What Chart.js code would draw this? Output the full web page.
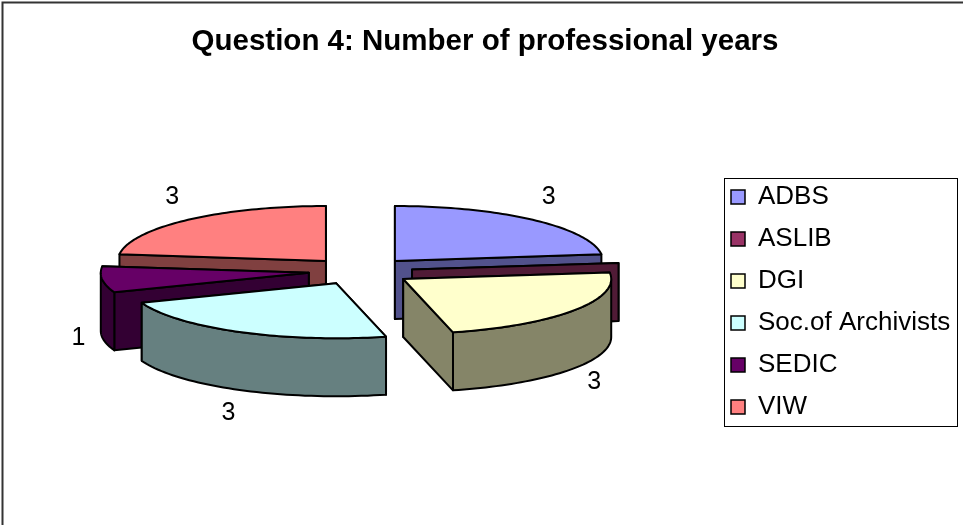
<!DOCTYPE html>
<html><head><meta charset="utf-8">
<style>html,body{margin:0;padding:0;background:#fff}#w{position:relative;width:963px;height:525px}</style>
<script src="https://cdn.jsdelivr.net/npm/chart.js@4"></script>
</head><body><div id="w"><canvas id="c" width="963" height="525"></canvas></div>
<script>
const categories = ['ADBS','ASLIB','DGI','Soc.of Archivists','SEDIC','VIW'];
const values = [3,0,3,3,1,3];
const topColors = ['#9999FF','#993366','#FFFFCC','#CCFFFF','#660066','#FF8080'];
const wallColors = ['#52528C','#501B36','#858568','#668080','#330033','#804040'];
const paintOrder = [0,5,1,4,2,3];
const tiltY = 0.264, depth = 58, shiftX = -2, labelDX = 24, labelDY = 30, labelFrontLift = 3;
const legendFrame = {left:724, top:178, right:957, bottom:426};
const legendInset = 9, legendOverscan = 30;

function pt(g,a,r){ return [g.x+Math.cos(a)*r, g.y+Math.sin(a)*r*tiltY]; }
const pie3d = {
  id:'pie3d',
  afterLayout(chart){
    const l=chart.legend;
    l.left=legendFrame.left-legendInset; l.right=legendFrame.right;
    l.top=legendFrame.top-legendOverscan; l.bottom=legendFrame.bottom+legendOverscan;
    l.height=l.bottom-l.top;
  },
  beforeDraw(chart){
    const c=chart.ctx; c.save(); c.strokeStyle='#333'; c.lineWidth=2;
    c.beginPath(); c.moveTo(2.5,chart.height); c.lineTo(2.5,2.5); c.lineTo(chart.width,2.5); c.stroke();
    c.strokeStyle='#000'; c.lineWidth=1;
    c.strokeRect(legendFrame.left+.5,legendFrame.top+.5,legendFrame.right-legendFrame.left,legendFrame.bottom-legendFrame.top);
    c.restore();
  },
  beforeDatasetsDraw(chart){
    const c=chart.ctx, meta=chart.getDatasetMeta(0);
    const geo=meta.data.map((el,i)=>{
      const mid=(el.startAngle+el.endAngle)/2, off=el.options.offset/4;
      return {i,s:el.startAngle,e:el.endAngle,mid,r:el.outerRadius,
        x:el.x+shiftX+Math.cos(mid)*off,
        y:el.y-depth/2+Math.sin(mid)*off*tiltY};
    });
    const poly=(pts,fill)=>{c.beginPath();pts.forEach((p,k)=>k?c.lineTo(p[0],p[1]):c.moveTo(p[0],p[1]));c.closePath();c.fillStyle=fill;c.fill();c.stroke();};
    c.save(); c.strokeStyle='#000'; c.lineWidth=2; c.lineJoin='round';
    paintOrder.forEach(i=>{
      const g=geo[i], wall=wallColors[i];
      // radial faces, the one nearer the viewer last
      [g.s,g.e].sort((a,b)=>Math.sin(a)-Math.sin(b)).forEach(a=>{
        const p=pt(g,a,g.r);
        poly([[g.x,g.y],p,[p[0],p[1]+depth],[g.x,g.y+depth]],wall);
      });
      // front rim: the part of the arc facing the viewer
      const a0=Math.max(g.s,0), a1=Math.min(g.e,Math.PI);
      if(a1>a0){
        const up=[],down=[];
        for(let k=0;k<=48;k++){const a=a0+(a1-a0)*k/48;const p=pt(g,a,g.r);up.push(p);down.unshift([p[0],p[1]+depth]);}
        poly(up.concat(down),wall);
      }
      // top face
      if(g.e>g.s){
        const top=[[g.x,g.y]];
        for(let k=0;k<=64;k++){top.push(pt(g,g.s+(g.e-g.s)*k/64,g.r));}
        poly(top,topColors[i]);
      }
    });
    // value labels
    c.fillStyle='#000'; c.font='25px "Liberation Sans"'; c.textAlign='center'; c.textBaseline='middle';
    geo.forEach(g=>{
      if(!values[g.i]) return;
      const p=pt(g,g.mid,g.r), front=Math.sin(g.mid)>0;
      c.fillText(String(values[g.i]),p[0]+Math.cos(g.mid)*labelDX,p[1]+(front?depth-labelFrontLift:0)+Math.sin(g.mid)*labelDY);
    });
    c.restore();
    return false;
  }
};
new Chart(document.getElementById('c'),{
  type:'pie',
  data:{labels:categories,datasets:[{data:values,backgroundColor:topColors,radius:208,offset:208,rotation:0}]},
  plugins:[pie3d],
  options:{
    responsive:false,animation:false,events:[],
    layout:{padding:{left:13,right:6,top:0,bottom:0}},
    plugins:{
      tooltip:{enabled:false},
      title:{display:true,text:'Question 4: Number of professional years',color:'#000',
        font:{family:'"Liberation Sans"',size:29.5,weight:'bold'},padding:{top:24,bottom:16}},
      legend:{position:'right',align:'center',
        labels:{color:'#000',boxWidth:14,boxHeight:14,padding:16,
          font:{family:'"Liberation Sans"',size:26},
          generateLabels(chart){return categories.map((t,i)=>({text:t,fillStyle:topColors[i],strokeStyle:'#000',lineWidth:1.5,index:i,hidden:false}));}}}
    }
  }
});
</script></body></html>
